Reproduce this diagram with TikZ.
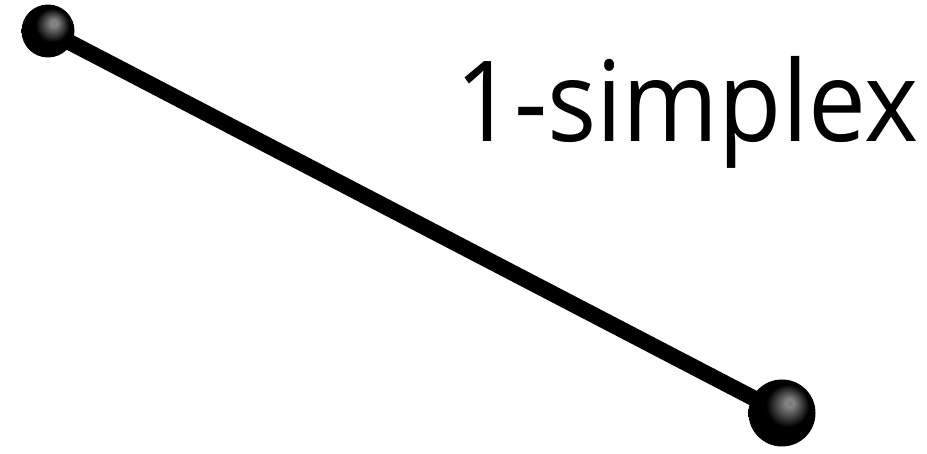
\documentclass[tikz,border=0pt]{standalone}
\usepackage{fontspec}
\setmainfont{Open Sans}
\usetikzlibrary{backgrounds}
\pgfdeclareradialshading{simplexball}{\pgfpoint{6bp}{8bp}}{color(0bp)=(black!52); color(3bp)=(black!48); color(16bp)=(black); color(50bp)=(black)}
\tikzset{
  vertexball/.style={circle, inner sep=0pt, shading=simplexball},
  edgeline/.style={line width=16pt, black},
  label/.style={anchor=base west, inner sep=0pt, font=\fontsize{112}{112}\selectfont}
}
\begin{document}
\begin{tikzpicture}[x=1pt,y=-1pt]
\useasboundingbox (0,0) rectangle (927,454);
\node[vertexball, minimum size=53pt] (a) at (48,31) {};
\node[vertexball, minimum size=67pt] (b) at (782,413) {};
\begin{scope}[on background layer]
\draw[edgeline] (a.center) -- (b.center);
\end{scope}
\node[label] (t) at (455,142) {\scalebox{0.922}[1]{1-simplex}};
\end{tikzpicture}
\end{document}
